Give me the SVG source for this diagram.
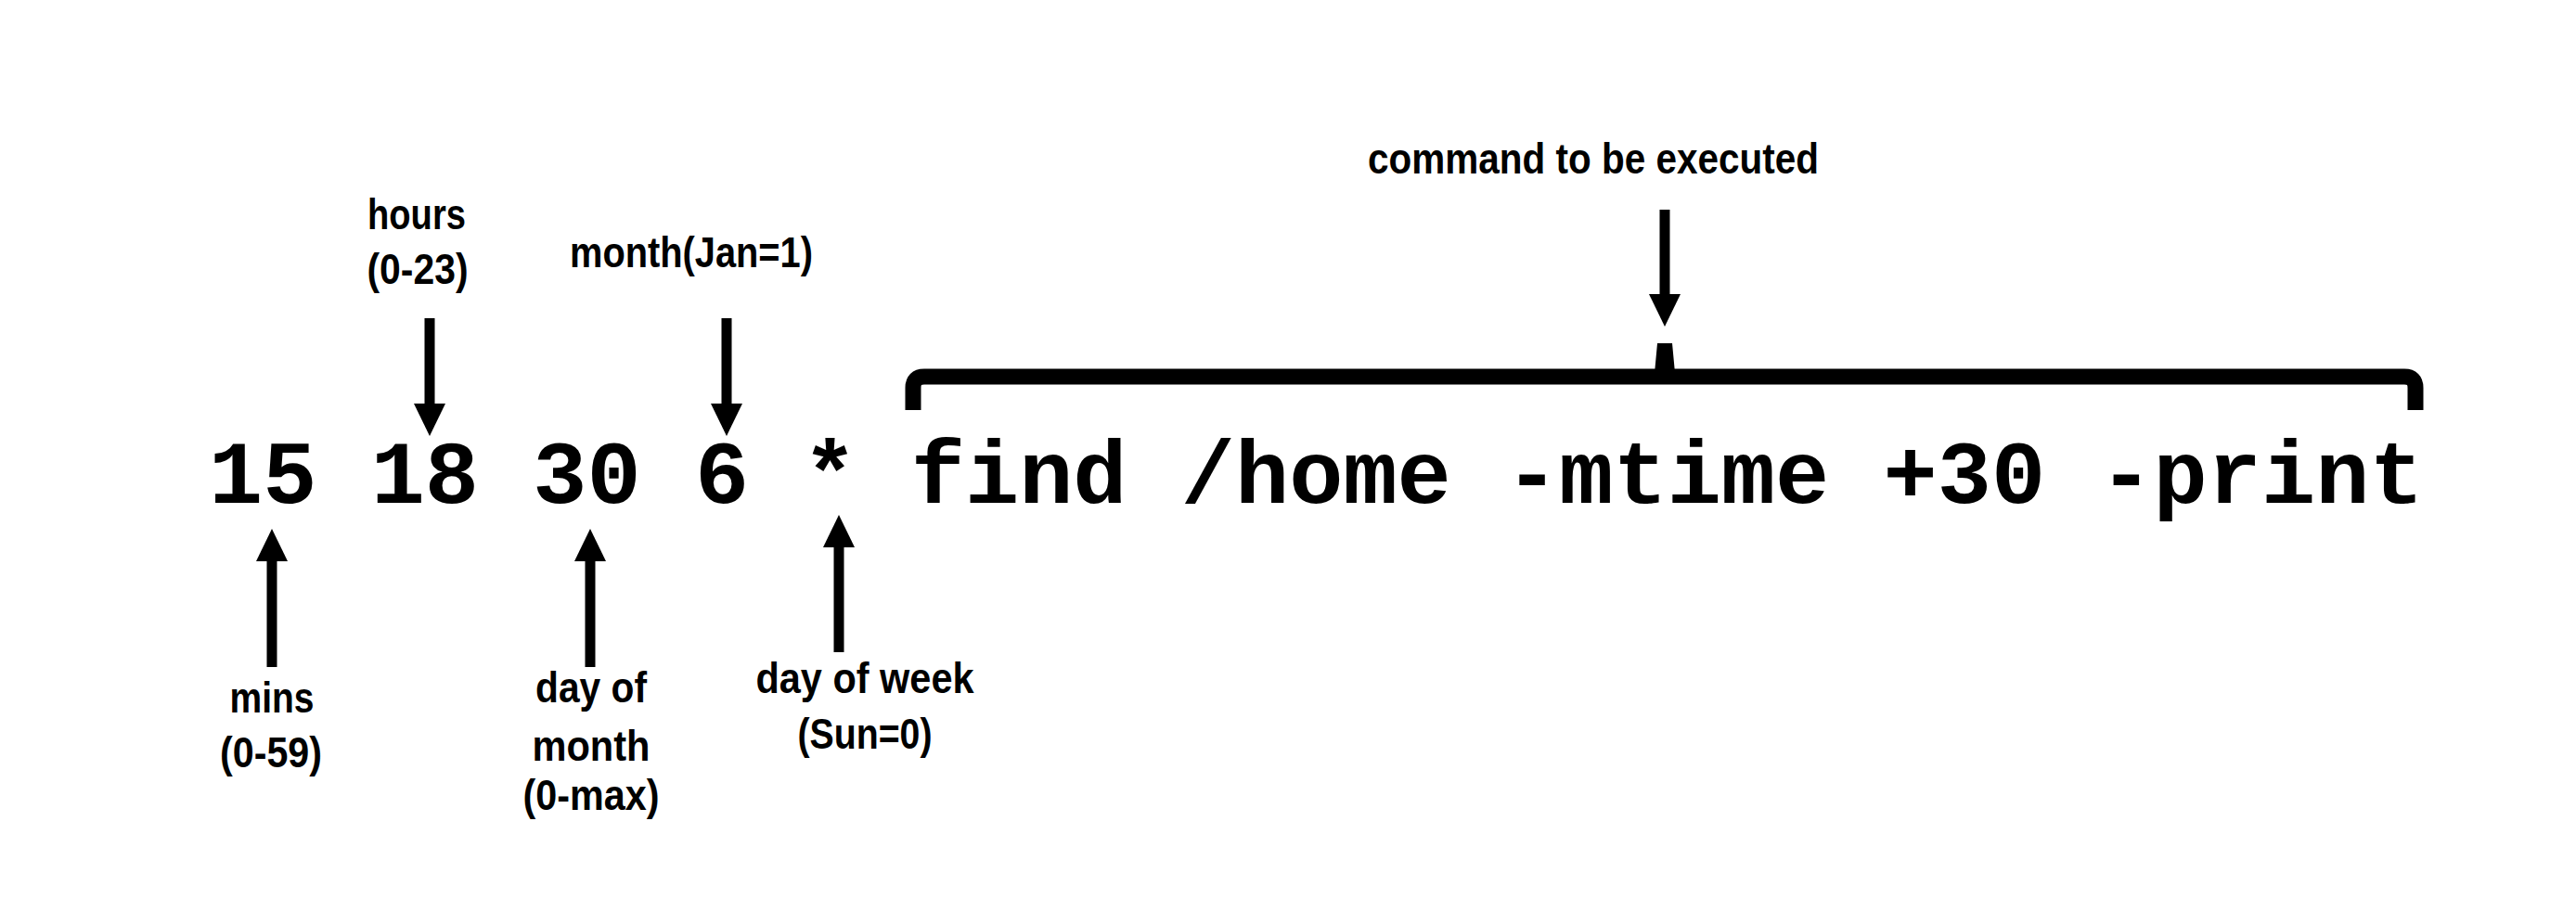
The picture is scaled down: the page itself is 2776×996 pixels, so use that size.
<svg xmlns="http://www.w3.org/2000/svg" width="2776" height="996" viewBox="0 0 2776 996">
<style>
.lbl{font-family:"Liberation Sans",Arial,sans-serif;font-weight:bold;font-size:46px;fill:#000;text-anchor:middle}
.code{font-family:"Liberation Mono","Courier New",monospace;font-weight:bold;font-size:97px;fill:#000}
.arr{stroke:#000;stroke-width:11;fill:none}
</style>
<defs>
<marker id="ah" markerUnits="userSpaceOnUse" markerWidth="36" markerHeight="36" viewBox="0 0 36 34" refX="1" refY="17" orient="auto">
<path d="M0,0 L35,17 L0,34 z" fill="#000"/>
</marker>
</defs>
<rect width="2776" height="996" fill="#fff"/>
<g id="cron-line">
<text class="code" x="225" y="542">15 18 30 6 * find /home -mtime +30 -print</text>
</g>
<g id="brace">
<path d="M984,442 V418 Q984,406 996,406 H2591 Q2603,406 2603,418 V442" fill="none" stroke="#000" stroke-width="17"/>
<polygon points="1783,402 1786,370 1802,370 1805,402" fill="#000"/>
</g>
<g id="label-command"><text class="lbl" x="1717" y="187" textLength="486" lengthAdjust="spacingAndGlyphs">command to be executed</text></g>
<g id="label-hours">
<text class="lbl" x="449" y="247" textLength="106" lengthAdjust="spacingAndGlyphs">hours</text>
<text class="lbl" x="450" y="306" textLength="109" lengthAdjust="spacingAndGlyphs">(0-23)</text>
</g>
<g id="label-month"><text class="lbl" x="745" y="288" textLength="262" lengthAdjust="spacingAndGlyphs">month(Jan=1)</text></g>
<g id="label-mins">
<text class="lbl" x="293" y="768" textLength="91" lengthAdjust="spacingAndGlyphs">mins</text>
<text class="lbl" x="292" y="827" textLength="110" lengthAdjust="spacingAndGlyphs">(0-59)</text>
</g>
<g id="label-dom">
<text class="lbl" x="637" y="757" textLength="120" lengthAdjust="spacingAndGlyphs">day of</text>
<text class="lbl" x="637" y="820" textLength="127" lengthAdjust="spacingAndGlyphs">month</text>
<text class="lbl" x="637" y="873" textLength="147" lengthAdjust="spacingAndGlyphs">(0-max)</text>
</g>
<g id="label-dow">
<text class="lbl" x="932" y="747" textLength="235" lengthAdjust="spacingAndGlyphs">day of week</text>
<text class="lbl" x="932" y="807" textLength="145" lengthAdjust="spacingAndGlyphs">(Sun=0)</text>
</g>
<g id="connectors">
<line class="arr" x1="1794" y1="226" x2="1794" y2="318" marker-end="url(#ah)"/>
<line class="arr" x1="463" y1="343" x2="463" y2="436" marker-end="url(#ah)"/>
<line class="arr" x1="783" y1="343" x2="783" y2="436" marker-end="url(#ah)"/>
<line class="arr" x1="293" y1="719" x2="293" y2="604" marker-end="url(#ah)"/>
<line class="arr" x1="636" y1="719" x2="636" y2="604" marker-end="url(#ah)"/>
<line class="arr" x1="904" y1="703" x2="904" y2="589" marker-end="url(#ah)"/>
</g>
</svg>
